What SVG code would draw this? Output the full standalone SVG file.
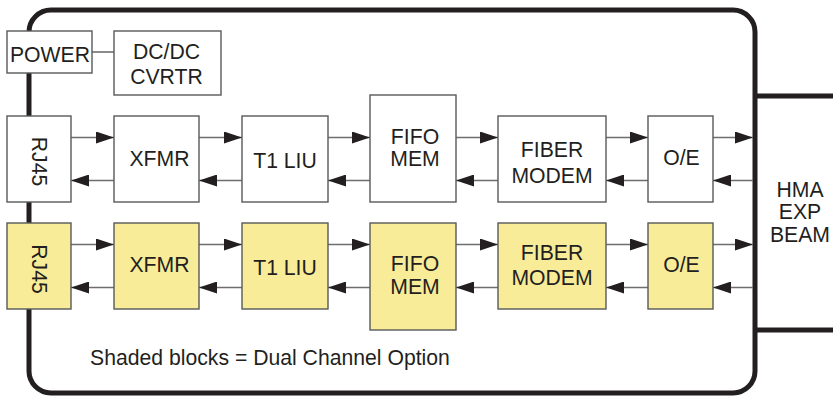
<svg xmlns="http://www.w3.org/2000/svg" width="833" height="397" viewBox="0 0 833 397">
<defs>
<style>
.box{fill:#ffffff;stroke:#58595b;stroke-width:1.4}
.sh{fill:#f9ec98;stroke:#58595b;stroke-width:1.4}
.t{font-family:"Liberation Sans",Arial,sans-serif;font-size:21.2px;fill:#231f20;text-anchor:middle}
.c{stroke:#6d6e71;stroke-width:1.6;fill:none;marker-end:url(#ah)}
.heavy{stroke:#231f20;stroke-width:5;fill:none}
</style>
<marker id="ah" markerUnits="userSpaceOnUse" markerWidth="18" markerHeight="12" refX="18" refY="6" orient="auto">
<path d="M0,0 L18,6 L0,12 z" fill="#231f20"/>
</marker>
</defs>
<rect width="833" height="397" fill="#ffffff"/>
<g id="frame">
<rect class="heavy" x="29" y="10" width="726" height="383" rx="22" ry="22"/>
<line class="heavy" x1="755" y1="96" x2="833" y2="96"/>
<line class="heavy" x1="755" y1="330" x2="833" y2="330"/>
</g>
<g id="connectors">
<line x1="92" y1="52" x2="114" y2="52" stroke="#58595b" stroke-width="1.4"/>
<line class="c" x1="71" y1="137.5" x2="114" y2="137.5"/>
<line class="c" x1="114" y1="180.5" x2="71" y2="180.5"/>
<line class="c" x1="199" y1="137.5" x2="242" y2="137.5"/>
<line class="c" x1="242" y1="180.5" x2="199" y2="180.5"/>
<line class="c" x1="328" y1="137.5" x2="370" y2="137.5"/>
<line class="c" x1="370" y1="180.5" x2="328" y2="180.5"/>
<line class="c" x1="456" y1="137.5" x2="498" y2="137.5"/>
<line class="c" x1="498" y1="180.5" x2="456" y2="180.5"/>
<line class="c" x1="606" y1="137.5" x2="648" y2="137.5"/>
<line class="c" x1="648" y1="180.5" x2="606" y2="180.5"/>
<line class="c" x1="713" y1="137.5" x2="753" y2="137.5"/>
<line class="c" x1="753" y1="180.5" x2="713" y2="180.5"/>
<line class="c" x1="71" y1="244.5" x2="114" y2="244.5"/>
<line class="c" x1="114" y1="287.5" x2="71" y2="287.5"/>
<line class="c" x1="199" y1="244.5" x2="242" y2="244.5"/>
<line class="c" x1="242" y1="287.5" x2="199" y2="287.5"/>
<line class="c" x1="328" y1="244.5" x2="370" y2="244.5"/>
<line class="c" x1="370" y1="287.5" x2="328" y2="287.5"/>
<line class="c" x1="456" y1="244.5" x2="498" y2="244.5"/>
<line class="c" x1="498" y1="287.5" x2="456" y2="287.5"/>
<line class="c" x1="606" y1="244.5" x2="648" y2="244.5"/>
<line class="c" x1="648" y1="287.5" x2="606" y2="287.5"/>
<line class="c" x1="713" y1="244.5" x2="753" y2="244.5"/>
<line class="c" x1="753" y1="287.5" x2="713" y2="287.5"/>
</g>
<g id="power"><rect class="box" x="7" y="31" width="85" height="42"/><text class="t" x="50" y="62">POWER</text></g>
<g id="dcdc"><rect class="box" x="114" y="31" width="107" height="64"/><text class="t" x="166.5" y="58.5">DC/DC</text><text class="t" x="166.5" y="83.5">CVRTR</text></g>
<g id="rj45-1"><rect class="box" x="7" y="116" width="64" height="86"/><text class="t" transform="translate(32,161.5) rotate(90)">RJ45</text></g>
<g id="xfmr-1"><rect class="box" x="114" y="116" width="85" height="86"/><text class="t" x="159.5" y="165.5">XFMR</text></g>
<g id="t1liu-1"><rect class="box" x="242" y="116" width="86" height="86"/><text class="t" x="285" y="167.5">T1 LIU</text></g>
<g id="fifo-1"><rect class="box" x="370" y="95" width="86" height="107"/><text class="t" x="415" y="143.5">FIFO</text><text class="t" x="415" y="165.5">MEM</text></g>
<g id="fiber-1"><rect class="box" x="498" y="116" width="108" height="86"/><text class="t" x="552" y="156.5">FIBER</text><text class="t" x="552" y="182.5">MODEM</text></g>
<g id="oe-1"><rect class="box" x="648" y="116" width="65" height="86"/><text class="t" x="681.5" y="165">O/E</text></g>
<g id="rj45-2"><rect class="sh" x="7" y="223" width="64" height="86"/><text class="t" transform="translate(32,269) rotate(90)">RJ45</text></g>
<g id="xfmr-2"><rect class="sh" x="114" y="223" width="85" height="86"/><text class="t" x="159.5" y="272">XFMR</text></g>
<g id="t1liu-2"><rect class="sh" x="242" y="223" width="86" height="86"/><text class="t" x="285" y="274.5">T1 LIU</text></g>
<g id="fifo-2"><rect class="sh" x="370" y="223" width="86" height="107"/><text class="t" x="415" y="271">FIFO</text><text class="t" x="415" y="293.5">MEM</text></g>
<g id="fiber-2"><rect class="sh" x="498" y="223" width="108" height="86"/><text class="t" x="552" y="260">FIBER</text><text class="t" x="552" y="285">MODEM</text></g>
<g id="oe-2"><rect class="sh" x="648" y="223" width="65" height="86"/><text class="t" x="681.5" y="272">O/E</text></g>
<g id="hma"><text class="t" x="800" y="196.5">HMA</text><text class="t" x="800" y="218.5">EXP</text><text class="t" x="800" y="241.5">BEAM</text></g>
<text class="t" x="90" y="365" style="text-anchor:start">Shaded blocks = Dual Channel Option</text>
</svg>
